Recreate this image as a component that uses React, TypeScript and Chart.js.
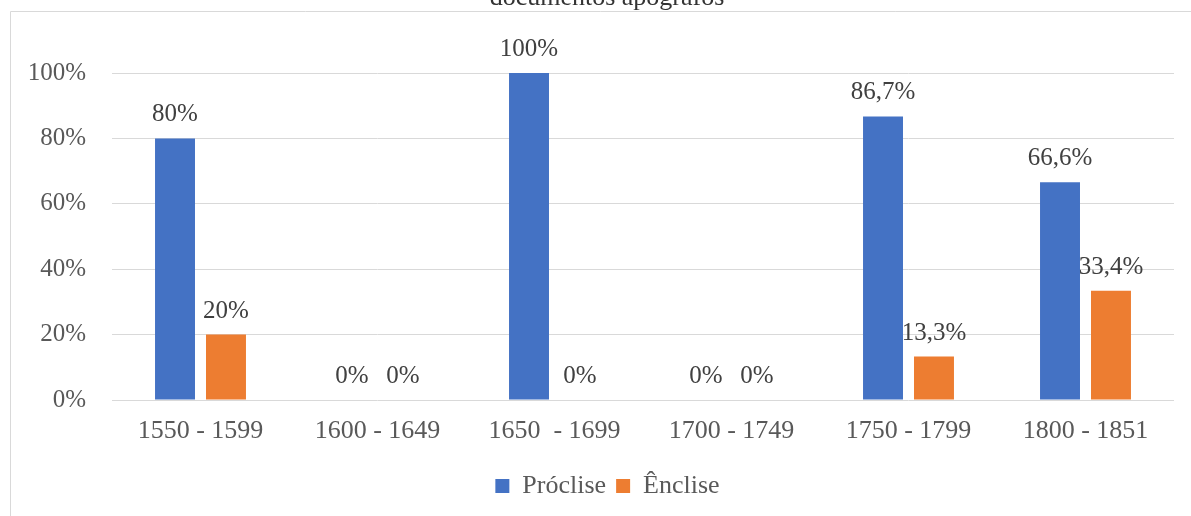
import React, { useEffect, useRef } from "react";
import { Chart, registerables } from "chart.js";

Chart.register(...registerables);

const categories = ["1550 - 1599", "1600 - 1649", "1650  - 1699", "1700 - 1749", "1750 - 1799", "1800 - 1851"];
const proclise = [80, 0, 100, 0, 86.7, 66.6];
const enclise = [20, 0, 0, 0, 13.3, 33.4];
const yTicks = [0, 20, 40, 60, 80, 100];
const titleText = "documentos apógrafos";

const FONT = "'Liberation Serif', 'Times New Roman', serif";

const fmt = (v: number) => (Number.isInteger(v) ? `${v}%` : `${v.toFixed(1).replace(".", ",")}%`);

// Value labels above each bar
const valueLabels = {
  id: "valueLabels",
  afterDatasetsDraw(chart: any) {
    const ctx = chart.ctx;
    ctx.save();
    ctx.font = `25px ${FONT}`;
    ctx.fillStyle = "#404040";
    ctx.textAlign = "center";
    ctx.textBaseline = "alphabetic";
    chart.data.datasets.forEach((ds: any, di: number) => {
      const meta = chart.getDatasetMeta(di);
      meta.data.forEach((el: any, i: number) => {
        ctx.fillText(fmt(ds.data[i]), el.x, el.y - 17);
      });
    });
    ctx.restore();
  },
};

// Title and outer frame lines
const frame = {
  id: "frame",
  afterDraw(chart: any) {
    const ctx = chart.ctx;
    ctx.save();
    ctx.strokeStyle = "#d9d9d9";
    ctx.lineWidth = 1;
    ctx.beginPath();
    ctx.moveTo(10.5, chart.height);
    ctx.lineTo(10.5, 11.5);
    ctx.lineTo(chart.width, 11.5);
    ctx.stroke();
    ctx.font = `26px ${FONT}`;
    ctx.fillStyle = "#333333";
    ctx.textAlign = "center";
    ctx.textBaseline = "alphabetic";
    ctx.fillText(titleText, 607, 4.5);
    ctx.restore();
  },
};

export default function App() {
  const ref = useRef<HTMLCanvasElement>(null);

  useEffect(() => {
    if (!ref.current) return;
    const chart = new Chart(ref.current, {
      type: "bar",
      data: {
        labels: categories,
        datasets: [
          {
            label: "Próclise",
            data: proclise,
            backgroundColor: "#4472C4",
            barPercentage: 0.784,
            categoryPercentage: 0.576,
          },
          {
            label: "Ênclise",
            data: enclise,
            backgroundColor: "#ED7D31",
            barPercentage: 0.784,
            categoryPercentage: 0.576,
          },
        ],
      },
      options: {
        responsive: false,
        animation: false,
        layout: { padding: { left: 24, right: 0, top: 73, bottom: 7 } },
        plugins: {
          title: { display: false },
          tooltip: { enabled: false },
          legend: {
            position: "bottom",
            labels: {
              boxWidth: 14,
              boxHeight: 14,
              padding: 10,
              color: "#595959",
              font: { family: FONT, size: 26 },
            },
          },
        },
        scales: {
          x: {
            grid: { display: false, drawTicks: false },
            border: { display: false },
            ticks: { color: "#595959", font: { family: FONT, size: 26 }, padding: 16, maxRotation: 0 },
            afterFit: (s: any) => {
              s.height = 63;
            },
          },
          y: {
            min: 0,
            max: 100,
            afterBuildTicks: (s: any) => {
              s.ticks = yTicks.map((v) => ({ value: v }));
            },
            grid: { color: "#d9d9d9", lineWidth: 1, drawTicks: false },
            border: { display: false },
            ticks: {
              color: "#595959",
              font: { family: FONT, size: 25 },
              padding: 26,
              callback: (v: any) => `${v}%`,
            },
            afterFit: (s: any) => {
              s.width = 88;
            },
          },
          // empty spacer on the right edge of the plot
          yRight: {
            position: "right",
            min: 0,
            max: 100,
            grid: { display: false, drawTicks: false },
            border: { display: false },
            ticks: { display: false },
            afterFit: (s: any) => {
              s.width = 17;
            },
          },
        },
      },
      plugins: [valueLabels, frame],
    });
    return () => chart.destroy();
  }, []);

  return (
    <canvas
      ref={ref}
      width={1191}
      height={516}
      style={{ position: "absolute", left: 0, top: 0, display: "block", background: "#fff" }}
    />
  );
}
